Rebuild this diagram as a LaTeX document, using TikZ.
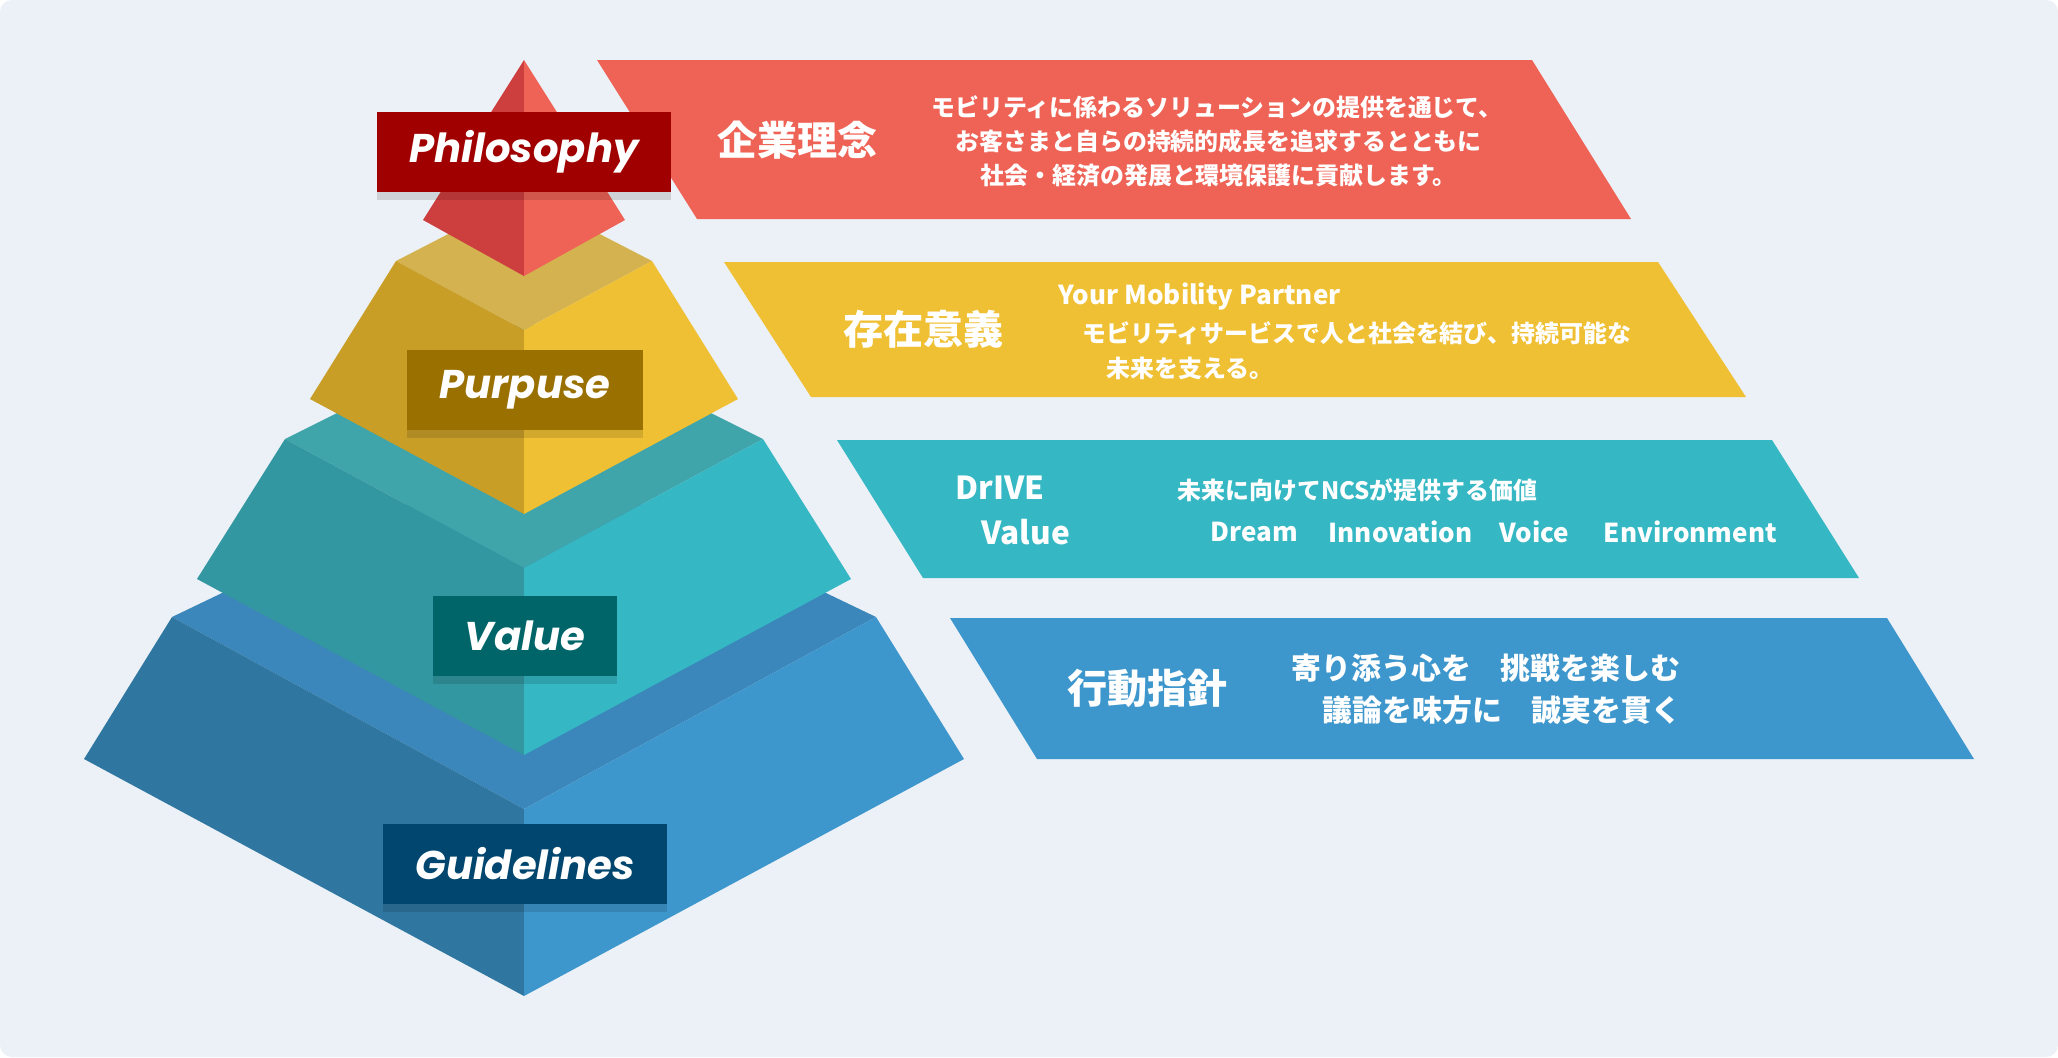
\documentclass[tikz,border=0pt]{standalone}
\usepackage{fontspec}
\newfontfamily\jpfont{Noto Sans CJK JP}
\newfontfamily\labelfont{Poppins}
\usetikzlibrary{shadows}

% Colours
\definecolor{bgcol}{HTML}{ECF1F7}
\definecolor{redleft}{HTML}{CD3E3E}
\definecolor{redright}{HTML}{EF6356}
\definecolor{yellowtop}{HTML}{D4B24F}
\definecolor{yellowleft}{HTML}{C99E27}
\definecolor{yellowright}{HTML}{F0C034}
\definecolor{tealtop}{HTML}{3FA5AA}
\definecolor{tealleft}{HTML}{3397A1}
\definecolor{tealright}{HTML}{35B7C4}
\definecolor{bluetop}{HTML}{3B86BA}
\definecolor{blueleft}{HTML}{2F77A0}
\definecolor{blueright}{HTML}{3E97CC}
\definecolor{philcol}{HTML}{A00000}
\definecolor{purpcol}{HTML}{9A7000}
\definecolor{valcol}{HTML}{006569}
\definecolor{guidecol}{HTML}{00466E}

\tikzset{
  tag/.style={minimum height=0.79cm, inner sep=0pt, text=white,
    font=\labelfont\bfseries\itshape\fontsize{11.4}{12}\selectfont,
    drop shadow={shadow xshift=0pt, shadow yshift=-2.5pt, opacity=0.12, fill=black}},
  heading/.style={anchor=west, inner sep=0pt, text=white, font=\jpfont\bfseries\fontsize{11.4}{12}\selectfont},
  body/.style={anchor=west, inner sep=0pt, text=white, font=\jpfont\bfseries\fontsize{6.8}{8}\selectfont},
  word/.style={anchor=west, inner sep=0pt, text=white, font=\jpfont\bfseries\fontsize{7.4}{9}\selectfont},
}

\begin{document}
\begin{tikzpicture}[x=0.01cm, y=-0.01cm]
    % Background
    \fill[white] (0,0) rectangle (2058,1057);
    \fill[bgcol, rounded corners=0.12cm] (0,0) rectangle (2058,1057);
    \useasboundingbox (0,0) rectangle (2058,1057);

    % Guidelines layer
    \fill[bluetop] (524,448) -- (172,617) -- (524,809) -- (876,617) -- cycle;
    \fill[blueleft] (172,617) -- (84,759) -- (524,996) -- (524,809) -- cycle;
    \fill[blueright] (876,617) -- (964,759) -- (524,996) -- (524,809) -- cycle;

    % Value layer
    \fill[tealtop] (524,320) -- (285,439) -- (524,568) -- (763,439) -- cycle;
    \fill[tealleft] (285,439) -- (197,579) -- (524,755) -- (524,568) -- cycle;
    \fill[tealright] (763,439) -- (851,579) -- (524,755) -- (524,568) -- cycle;

    % Purpuse layer
    \fill[yellowtop] (524,195) -- (396,261) -- (524,330) -- (652,261) -- cycle;
    \fill[yellowleft] (396,261) -- (310,399) -- (524,514) -- (524,330) -- cycle;
    \fill[yellowright] (652,261) -- (738,399) -- (524,514) -- (524,330) -- cycle;

    % Philosophy top
    \fill[redleft] (524,60) -- (423,220) -- (524,276) -- cycle;
    \fill[redright] (524,60) -- (625,220) -- (524,276) -- cycle;

    % Banners
    \fill[redright] (597,60) -- (1532,60) -- (1631,219) -- (697,219) -- cycle;
    \fill[yellowright] (724,262) -- (1658,262) -- (1746,397) -- (811,397) -- cycle;
    \fill[tealright] (837,440) -- (1772,440) -- (1859,578) -- (923,578) -- cycle;
    \fill[blueright] (950,618) -- (1887,618) -- (1974,759) -- (1037,759) -- cycle;

    % Layer labels
    \node[tag, fill=philcol, minimum width=2.94cm] (philosophy) at (524,152) {Philosophy};
    \node[tag, fill=purpcol, minimum width=2.36cm] (purpuse) at (525,390) {Purpuse};
    \node[tag, fill=valcol, minimum width=1.84cm] (value) at (525,636) {Value};
    \node[tag, fill=guidecol, minimum width=2.84cm] (guidelines) at (525,864) {Guidelines};

    % Philosophy banner
    \node[heading] (rinen) at (717,140) {企業理念};
    \node[body] (rinen1) at (931,107) {モビリティに係わるソリューションの提供を通じて、};
    \node[body] (rinen2) at (955,141) {お客さまと自らの持続的成長を追求するとともに};
    \node[body] (rinen3) at (980,176) {社会・経済の発展と環境保護に貢献します。};

    % Purpuse banner
    \node[heading] (igi) at (843,329) {存在意義};
    \node[word] (partner) at (1058,297) {Your Mobility Partner};
    \node[body] (igi1) at (1082,333) {モビリティサービスで人と社会を結び、持続可能な};
    \node[body] (igi2) at (1106,368) {未来を支える。};

    % Value banner
    \node[heading, font=\jpfont\bfseries\fontsize{9}{10}\selectfont] (drive) at (955,488) {DrIVE};
    \node[heading, font=\jpfont\bfseries\fontsize{9}{10}\selectfont] (drivevalue) at (981,532) {Value};
    \node[body] (kachi) at (1177,490) {未来に向けてNCSが提供する価値};
    \node[word] (dream) at (1210,532) {Dream};
    \node[word] (innovation) at (1328,532) {Innovation};
    \node[word] (voice) at (1499,532) {Voice};
    \node[word] (environment) at (1603,532) {Environment};

    % Guidelines banner
    \node[heading] (shishin) at (1067,688) {行動指針};
    \node[body, font=\jpfont\bfseries\fontsize{8.5}{10}\selectfont] (shishin1) at (1291,668) {寄り添う心を　挑戦を楽しむ};
    \node[body, font=\jpfont\bfseries\fontsize{8.5}{10}\selectfont] (shishin2) at (1322,710) {議論を味方に　誠実を貫く};
\end{tikzpicture}
\end{document}
